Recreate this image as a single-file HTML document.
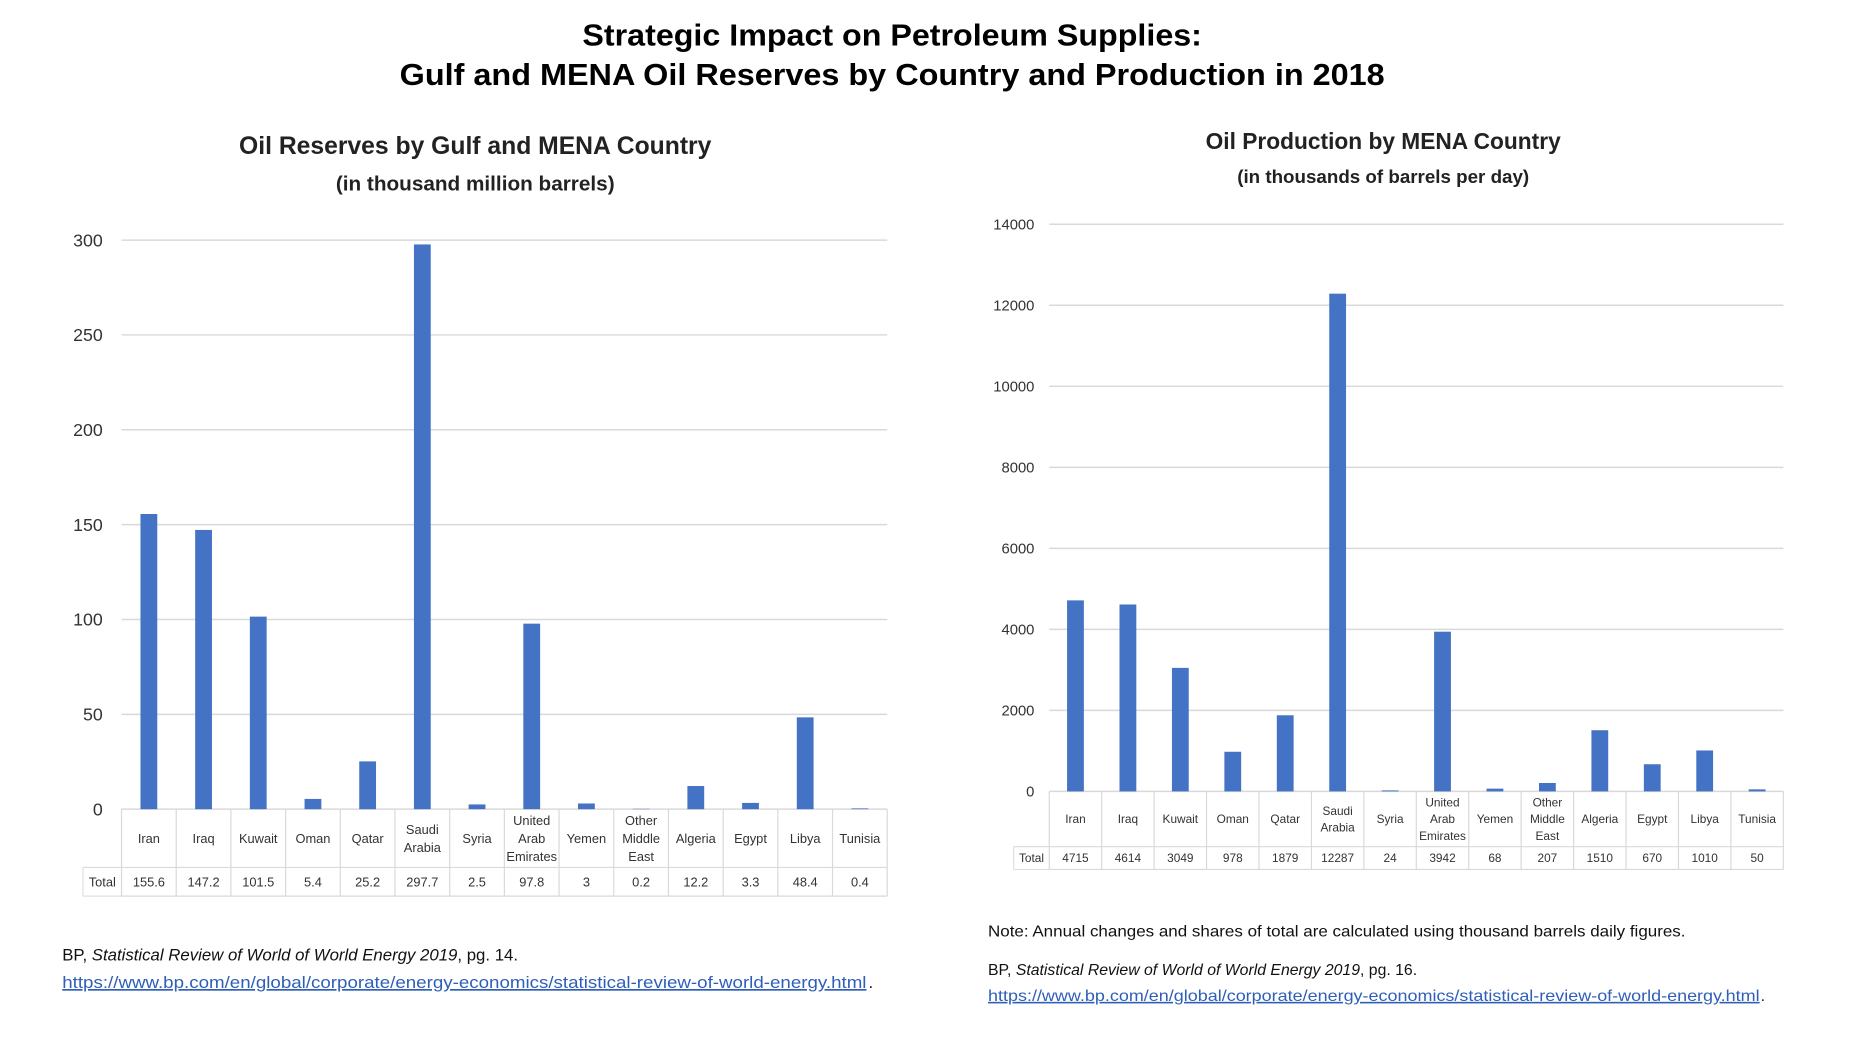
<!DOCTYPE html>
<html><head><meta charset="utf-8"><style>
html,body{margin:0;padding:0;background:#fff;}
svg{display:block;font-family:"Liberation Sans",sans-serif;}
</style></head><body>
<svg id="root" width="1850" height="1047" viewBox="0 0 1850 1047">
<g transform="scale(0.988)">
<text x="903" y="46" text-anchor="middle" font-size="31" font-weight="bold" fill="#000" textLength="627" lengthAdjust="spacingAndGlyphs">Strategic Impact on Petroleum Supplies:</text>
<text x="903" y="86" text-anchor="middle" font-size="31" font-weight="bold" fill="#000" textLength="997" lengthAdjust="spacingAndGlyphs">Gulf and MENA Oil Reserves by Country and Production in 2018</text>
<text x="481" y="156" text-anchor="middle" font-size="25" font-weight="bold" fill="#222">Oil Reserves by Gulf and MENA Country</text>
<text x="481" y="193" text-anchor="middle" font-size="21" font-weight="bold" fill="#222">(in thousand million barrels)</text>
<text x="1400" y="151" text-anchor="middle" font-size="23" font-weight="bold" fill="#222">Oil Production by MENA Country</text>
<text x="1400" y="185" text-anchor="middle" font-size="19" font-weight="bold" fill="#222">(in thousands of barrels per day)</text>
<g id="left"></g>
<g id="right"></g>
<text x="63" y="972" font-size="17" fill="#111">BP, <tspan font-style="italic">Statistical Review of World of World Energy 2019</tspan>, pg. 14.</text>
<text x="63" y="1000" font-size="17" fill="#2e5fb8" text-decoration="underline" textLength="814" lengthAdjust="spacingAndGlyphs">https://www.bp.com/en/global/corporate/energy-economics/statistical-review-of-world-energy.html</text>
<text x="879" y="1000" font-size="17" fill="#111">.</text>
<text x="1000" y="948" font-size="16" fill="#111" textLength="706" lengthAdjust="spacingAndGlyphs">Note: Annual changes and shares of total are calculated using thousand barrels daily figures.</text>
<text x="1000" y="987" font-size="16" fill="#111">BP, <tspan font-style="italic">Statistical Review of World of World Energy 2019</tspan>, pg. 16.</text>
<text x="1000" y="1013" font-size="16" fill="#2e5fb8" text-decoration="underline" textLength="781" lengthAdjust="spacingAndGlyphs">https://www.bp.com/en/global/corporate/energy-economics/statistical-review-of-world-energy.html</text>
<text x="1782" y="1013" font-size="16" fill="#111">.</text>
</g>
</svg>
<script>
const categories = [["Iran"],["Iraq"],["Kuwait"],["Oman"],["Qatar"],["Saudi","Arabia"],["Syria"],["United","Arab","Emirates"],["Yemen"],["Other","Middle","East"],["Algeria"],["Egypt"],["Libya"],["Tunisia"]];
const reserves = [155.6,147.2,101.5,5.4,25.2,297.7,2.5,97.8,3,0.2,12.2,3.3,48.4,0.4];
const reserveLabels = ["155.6","147.2","101.5","5.4","25.2","297.7","2.5","97.8","3","0.2","12.2","3.3","48.4","0.4"];
const reserveTicks = [0,50,100,150,200,250,300];
const production = [4715,4614,3049,978,1879,12287,24,3942,68,207,1510,670,1010,50];
const productionLabels = ["4715","4614","3049","978","1879","12287","24","3942","68","207","1510","670","1010","50"];
const productionTicks = [0,2000,4000,6000,8000,10000,12000,14000];

const NS="http://www.w3.org/2000/svg";
function mk(parent,tag,attrs,text){const e=document.createElementNS(NS,tag);for(const k in attrs)e.setAttribute(k,attrs[k]);if(text!==undefined)e.textContent=text;parent.appendChild(e);return e;}

function draw(g,cfg,values,labels,ticks,prefix){
  const x0=cfg.x0,x1=cfg.x1,y0=cfg.y0,yTop=cfg.yTop,max=ticks[ticks.length-1];
  const yScale=v=>y0-(v/max)*(y0-yTop);
  const cw=(x1-x0)/categories.length;
  const xBand=i=>x0+i*cw;
  ticks.forEach(t=>{
    const l=mk(g,"line",{x1:x0,x2:x1,y1:yScale(t),y2:yScale(t),stroke:"#d9d9d9","stroke-width":1.5});
    
    
    const tx=mk(g,"text",{x:cfg.labelX,y:yScale(t)+cfg.tickFs*0.35,"text-anchor":"end","font-size":cfg.tickFs,fill:"#333"},String(t));
    
    
  });
  values.forEach((v,i)=>{
    const cx=xBand(i)+cw/2;
    const r=mk(g,"rect",{x:cx-cfg.bw/2,y:yScale(v),width:cfg.bw,height:y0-yScale(v),fill:"#4472c4"});
    
    
  });
  const hb=cfg.hb, tb=cfg.tb;
  const gc="#d9d9d9";
  [hb,tb].forEach(y=>{const l=mk(g,"line",{x1:(y===hb?cfg.tx0:x0),x2:x1,y1:y,y2:y,stroke:gc,"stroke-width":1.2});
    
    });
  const lt=mk(g,"line",{x1:cfg.tx0,x2:x0,y1:tb,y2:tb,stroke:gc});
  
  
  for(let i=0;i<=categories.length;i++){
    const l=mk(g,"line",{x1:xBand(i),x2:xBand(i),y1:y0,y2:tb,stroke:gc,"stroke-width":1.2});
    
    
  }
  const lf=mk(g,"line",{x1:cfg.tx0,x2:cfg.tx0,y1:hb,y2:tb,stroke:gc});
  
  
  const tot=mk(g,"text",{x:(cfg.tx0+x0)/2,y:(hb+tb)/2+cfg.tfs*0.35,"text-anchor":"middle","font-size":cfg.tfs,fill:"#333"},"Total");
  
  
  categories.forEach((c,i)=>{
    const cx=xBand(i)+cw/2, lh=cfg.tfs*1.4;
    const mid=(y0+hb)/2;
    c.forEach((w,j)=>{
      const t=mk(g,"text",{x:cx,y:mid+(j-(c.length-1)/2)*lh+cfg.tfs*0.35,"text-anchor":"middle","font-size":cfg.tfs,fill:"#333"},w);
      
      
    });
    const vt=mk(g,"text",{x:cx,y:(hb+tb)/2+cfg.tfs*0.35,"text-anchor":"middle","font-size":cfg.tfs,fill:"#333"},labels[i]);
    
    
  });
}
draw(document.getElementById('left'),{x0:123,x1:898,y0:819,yTop:243,labelX:104,tickFs:18,bw:17,hb:878,tb:907,tx0:84,tfs:13},reserves,reserveLabels,reserveTicks,'reserves');
draw(document.getElementById('right'),{x0:1062,x1:1805,y0:801,yTop:227,labelX:1047,tickFs:15,bw:17,hb:857,tb:880,tx0:1026,tfs:12},production,productionLabels,productionTicks,'production');
</script>
</body></html>
